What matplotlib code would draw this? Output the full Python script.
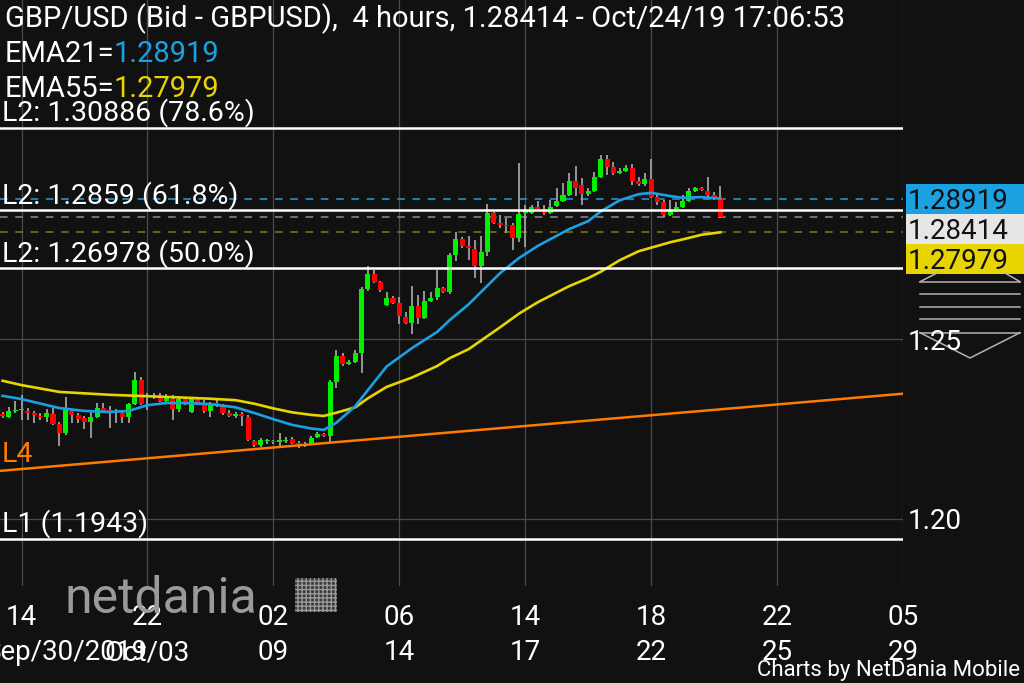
import numpy as np
import matplotlib
matplotlib.use('Agg')
import matplotlib.pyplot as plt
import matplotlib.transforms as mtransforms
from matplotlib.patches import Rectangle
from matplotlib.lines import Line2D

plt.rcParams['font.family'] = ['Roboto', 'DejaVu Sans']

BG = '#111111'
W, H = 1024, 683

# GBP/USD 4 hour candles, index 0 = Sep/30 14:00
first_idx = -3
opens = [1.2291, 1.2283, 1.2300, 1.2303, 1.2300, 1.2294, 1.2286, 1.2283, 1.2291, 1.2264,
         1.2238, 1.2300, 1.2289, 1.2280, 1.2269, 1.2283, 1.2308, 1.2303, 1.2297, 1.2294,
         1.2283, 1.2319, 1.2386, 1.2339, 1.2339, 1.2339, 1.2328, 1.2333, 1.2305, 1.2333,
         1.2297, 1.2333, 1.2319, 1.2300, 1.2322, 1.2314, 1.2294, 1.2286, 1.2291, 1.2283,
         1.2216, 1.2205, 1.2215, 1.2216, 1.2213, 1.2216, 1.2222, 1.2211, 1.2208, 1.2211,
         1.2227, 1.2236, 1.2230, 1.2381, 1.2453, 1.2431, 1.2436, 1.2461, 1.2640, 1.2682,
         1.2659, 1.2595, 1.2615, 1.2601, 1.2562, 1.2545, 1.2592, 1.2559, 1.2606, 1.2618,
         1.2643, 1.2632, 1.2735, 1.2779, 1.2760, 1.2751, 1.2704, 1.2743, 1.2852, 1.2824,
         1.2818, 1.2818, 1.2782, 1.2853, 1.2852, 1.2868, 1.2863, 1.2852, 1.2871, 1.2885,
         1.2902, 1.2941, 1.2930, 1.2905, 1.2913, 1.2952, 1.3002, 1.2980, 1.2963, 1.2969,
         1.2977, 1.2941, 1.2933, 1.2947, 1.2896, 1.2882, 1.2846, 1.2857, 1.2868, 1.2885,
         1.2913, 1.2921, 1.2913, 1.2902, 1.2894]
highs = [1.2297, 1.2311, 1.2328, 1.2344, 1.2308, 1.2300, 1.2294, 1.2305, 1.2308, 1.2269,
         1.2339, 1.2305, 1.2294, 1.2286, 1.2297, 1.2322, 1.2322, 1.2314, 1.2305, 1.2303,
         1.2322, 1.2408, 1.2395, 1.2350, 1.2350, 1.2350, 1.2347, 1.2344, 1.2339, 1.2339,
         1.2339, 1.2339, 1.2330, 1.2325, 1.2333, 1.2319, 1.2303, 1.2297, 1.2297, 1.2289,
         1.2219, 1.2225, 1.2222, 1.2219, 1.2238, 1.2227, 1.2227, 1.2216, 1.2213, 1.2230,
         1.2241, 1.2238, 1.2386, 1.2470, 1.2461, 1.2442, 1.2470, 1.2645, 1.2704, 1.2693,
         1.2662, 1.2632, 1.2620, 1.2618, 1.2576, 1.2648, 1.2623, 1.2634, 1.2632, 1.2693,
         1.2645, 1.2740, 1.2799, 1.2785, 1.2788, 1.2776, 1.2788, 1.2877, 1.2854, 1.2846,
         1.2838, 1.2824, 1.2991, 1.2874, 1.2874, 1.2885, 1.2874, 1.2888, 1.2921, 1.2935,
         1.2963, 1.2983, 1.2949, 1.2921, 1.2966, 1.3013, 1.3013, 1.2994, 1.2977, 1.2986,
         1.2988, 1.2952, 1.2963, 1.3002, 1.2902, 1.2888, 1.2888, 1.2882, 1.2902, 1.2921,
         1.2924, 1.2924, 1.2952, 1.2910, 1.2927]
lows = [1.2280, 1.2280, 1.2294, 1.2275, 1.2275, 1.2266, 1.2275, 1.2269, 1.2261, 1.2202,
        1.2233, 1.2266, 1.2266, 1.2250, 1.2225, 1.2280, 1.2294, 1.2252, 1.2266, 1.2266,
        1.2266, 1.2316, 1.2316, 1.2303, 1.2333, 1.2325, 1.2322, 1.2275, 1.2297, 1.2316,
        1.2294, 1.2316, 1.2294, 1.2283, 1.2311, 1.2289, 1.2283, 1.2280, 1.2258, 1.2216,
        1.2199, 1.2199, 1.2208, 1.2208, 1.2199, 1.2211, 1.2208, 1.2197, 1.2199, 1.2205,
        1.2225, 1.2227, 1.2213, 1.2364, 1.2425, 1.2428, 1.2434, 1.2406, 1.2634, 1.2657,
        1.2632, 1.2592, 1.2598, 1.2542, 1.2542, 1.2514, 1.2542, 1.2556, 1.2604, 1.2609,
        1.2629, 1.2626, 1.2718, 1.2754, 1.2721, 1.2671, 1.2657, 1.2732, 1.2821, 1.2810,
        1.2796, 1.2749, 1.2771, 1.2757, 1.2849, 1.2860, 1.2846, 1.2849, 1.2868, 1.2882,
        1.2899, 1.2899, 1.2874, 1.2899, 1.2910, 1.2949, 1.2958, 1.2958, 1.2960, 1.2966,
        1.2930, 1.2927, 1.2927, 1.2894, 1.2874, 1.2841, 1.2843, 1.2854, 1.2866, 1.2882,
        1.2910, 1.2913, 1.2894, 1.2888, 1.2838]
closes = [1.2286, 1.2300, 1.2303, 1.2305, 1.2294, 1.2289, 1.2283, 1.2294, 1.2264, 1.2238,
          1.2303, 1.2289, 1.2277, 1.2269, 1.2283, 1.2308, 1.2300, 1.2300, 1.2300, 1.2283,
          1.2319, 1.2386, 1.2319, 1.2342, 1.2342, 1.2328, 1.2336, 1.2305, 1.2333, 1.2322,
          1.2333, 1.2322, 1.2300, 1.2319, 1.2319, 1.2294, 1.2286, 1.2291, 1.2286, 1.2219,
          1.2205, 1.2219, 1.2218, 1.2212, 1.2219, 1.2219, 1.2211, 1.2208, 1.2205, 1.2225,
          1.2236, 1.2230, 1.2381, 1.2453, 1.2431, 1.2436, 1.2461, 1.2640, 1.2682, 1.2659,
          1.2637, 1.2615, 1.2601, 1.2565, 1.2545, 1.2592, 1.2559, 1.2606, 1.2615, 1.2643,
          1.2632, 1.2735, 1.2779, 1.2760, 1.2754, 1.2704, 1.2743, 1.2852, 1.2824, 1.2818,
          1.2815, 1.2782, 1.2849, 1.2856, 1.2868, 1.2863, 1.2852, 1.2868, 1.2885, 1.2902,
          1.2941, 1.2921, 1.2905, 1.2913, 1.2952, 1.3002, 1.2980, 1.2963, 1.2969, 1.2977,
          1.2941, 1.2933, 1.2947, 1.2896, 1.2882, 1.2846, 1.2857, 1.2868, 1.2885, 1.2913,
          1.2921, 1.2916, 1.2902, 1.2894, 1.28414]

# moving averages
ema_idx = [-3, 0, 6, 10, 14, 17, 20, 23, 26, 30, 34, 37, 40, 43, 46, 48, 50, 53, 55, 58,
           62, 66, 68, 71, 76, 79, 82, 87, 90, 92, 95, 98, 100, 103, 105, 108, 111]
ema21 = [1.2342, 1.2333, 1.2308, 1.2300, 1.2297, 1.2300, 1.2316, 1.2322, 1.2322, 1.2319,
         1.2310, 1.2294, 1.2277, 1.2261, 1.2251, 1.2247, 1.2267, 1.2313, 1.2358, 1.2424,
         1.2475, 1.2520, 1.2553, 1.2597, 1.2684, 1.2726, 1.2760, 1.2807, 1.2829, 1.2856,
         1.2887, 1.2904, 1.2908, 1.2899, 1.2894, 1.2896, 1.28919]
ema55 = [1.2384, 1.2372, 1.2353, 1.2349, 1.2345, 1.2343, 1.2341, 1.2339, 1.2337, 1.2334,
         1.2330, 1.2320, 1.2307, 1.2296, 1.2289, 1.2286, 1.2295, 1.2310, 1.2335, 1.2367,
         1.2393, 1.2425, 1.2447, 1.2472, 1.2533, 1.2571, 1.2603, 1.2648, 1.2670, 1.2688,
         1.2720, 1.2745, 1.2755, 1.2770, 1.2778, 1.2791, 1.27979]

fib_levels = [1.30886, 1.2859, 1.26978]
fib_labels = ['L2: 1.30886 (78.6%)', 'L2: 1.2859 (61.8%)', 'L2: 1.26978 (50.0%)']
l1_level = 1.1943
l1_label = 'L1 (1.1943)'
l4_idx = [-4, 140]
l4_price = [1.2132, 1.2348]

last_price = 1.28414
ema21_last = 1.28919
ema55_last = 1.27979

grid_idx = [0, 20, 40, 60, 80, 100, 120, 140]
top_labels = ['14', '22', '02', '06', '14', '18', '22', '05']
bottom_labels = ['Sep/30/2019', 'Oct/03', '09', '14', '17', '22', '25', '29']
price_ticks = [1.20, 1.25]

CYAN = '#1ba1e2'
YELLOW = '#e8d400'
ORANGE = '#ff7b00'

fig = plt.figure(figsize=(W / 100, H / 100), dpi=100, facecolor=BG)
ax = fig.add_axes([0, 1 - 586 / H, 903 / W, 586 / H])
ax.set_xlim(-3.415, 140)
ax.set_ylim(1.1812, 1.34454)
ax.axis('off')

for g in grid_idx:
    ax.axvline(g, color='#4a4a4a', lw=0.9, zorder=0)
for p in price_ticks:
    ax.axhline(p, color='#4a4a4a', lw=0.9, zorder=0)

# candles
o = np.array(opens)
h = np.array(highs)
l = np.array(lows)
c = np.array(closes)
idx = np.arange(first_idx, first_idx + len(o))
up = c >= o
body_lo = np.minimum(o, c)
body_h = np.maximum(np.abs(c - o), 0.0003)
ax.vlines(idx, l, h, color='#a0a0a0', lw=1.3, zorder=2)
ax.bar(idx[up], body_h[up], bottom=body_lo[up], width=0.8, color='#00f000', zorder=3)
ax.bar(idx[~up], body_h[~up], bottom=body_lo[~up], width=0.8, color='#ff0000', zorder=3)

ax.plot(ema_idx, ema55, color=YELLOW, lw=1.9, zorder=4)
ax.plot(ema_idx, ema21, color=CYAN, lw=1.9, zorder=4)

# dashed current value lines
ax.axhline(ema21_last, color=CYAN, lw=1.1, ls=(0, (5, 5)), zorder=1)
ax.axhline(last_price, color='#8c8c8c', lw=1.1, ls=(0, (5, 5)), zorder=1)
ax.axhline(ema55_last, color='#8a7c00', lw=1.1, ls=(0, (5, 5)), zorder=1)

# study lines
lbl_tr = mtransforms.blended_transform_factory(ax.transAxes, ax.transData)
lbl_tr = mtransforms.offset_copy(lbl_tr, fig=fig, x=0, y=7, units='dots')
for lev, txt in zip(fib_levels, fib_labels):
    ax.axhline(lev, color='white', lw=1.8, zorder=5)
    ax.text(2 / 903, lev, txt, transform=lbl_tr, color='white', fontsize=20.5,
            va='baseline', ha='left', zorder=6)
ax.axhline(l1_level, color='white', lw=1.8, zorder=5)
ax.text(2 / 903, l1_level, l1_label, transform=lbl_tr, color='white', fontsize=20.5,
        va='baseline', ha='left', zorder=6)
ax.plot(l4_idx, l4_price, color=ORANGE, lw=1.8, zorder=5)
l4_tr = mtransforms.offset_copy(ax.transData, fig=fig, x=0, y=9, units='dots')
ax.text(-3.2, l4_price[0], 'L4', transform=l4_tr, color=ORANGE, fontsize=20.5,
        va='baseline', ha='left', zorder=6)

# header
fig.text(5 / W, 1 - 27 / H, 'GBP/USD (Bid - GBPUSD),  4 hours, 1.28414 - Oct/24/19 17:06:53',
         color='white', fontsize=21, va='baseline')
fig.text(5 / W, 1 - 62 / H, 'EMA21=', color='white', fontsize=21, va='baseline')
fig.text(114 / W, 1 - 62 / H, f'{ema21_last:.5f}', color=CYAN, fontsize=21, va='baseline')
fig.text(5 / W, 1 - 97 / H, 'EMA55=', color='white', fontsize=21, va='baseline')
fig.text(114 / W, 1 - 97 / H, f'{ema55_last:.5f}', color=YELLOW, fontsize=21, va='baseline')

# right side price boxes
y0 = ax.transData.transform((0, ema21_last))[1]
for i, (val, col) in enumerate(zip([ema21_last, last_price, ema55_last], [CYAN, '#e6e6e6', YELLOW])):
    yc = y0 - 30 * i
    fig.add_artist(Rectangle((906 / W, (yc - 15) / H), (W - 906) / W, 30 / H,
                             transform=fig.transFigure, facecolor=col, edgecolor='none'))
    fig.text(908 / W, yc / H, f'{val:.5f}', color='#111111', fontsize=20, va='center_baseline')

for p in price_ticks:
    yp = ax.transData.transform((0, p))[1]
    fig.text(908 / W, yp / H, f'{p:.2f}', color='white', fontsize=20, va='center_baseline')

# scroll handle on the price scale
icon_col = '#b4b4b4'
for yy in [281.7, 294, 306.7, 319.3, 332.7]:
    fig.add_artist(Line2D([920 / W, 1020 / W], [1 - yy / H, 1 - yy / H],
                          transform=fig.transFigure, color=icon_col, lw=1.1))
fig.add_artist(Line2D([920 / W, 937 / W], [1 - 281.7 / H, 1 - 273 / H],
                      transform=fig.transFigure, color=icon_col, lw=1.1))
fig.add_artist(Line2D([1005 / W, 1020 / W], [1 - 273 / H, 1 - 281.7 / H],
                      transform=fig.transFigure, color=icon_col, lw=1.1))
fig.add_artist(Line2D([920 / W, 970 / W, 1020 / W], [1 - 332.7 / H, 1 - 358 / H, 1 - 332.7 / H],
                      transform=fig.transFigure, color=icon_col, lw=1.1))

# watermark
fig.text(65 / W, 1 - 613 / H, 'netdania', color='#9a9a9a', fontsize=36,
         va='baseline', zorder=1)
fig.add_artist(Rectangle((295 / W, 1 - 612 / H), 42 / W, 34 / H, transform=fig.transFigure,
                         facecolor='#3a3a3a', edgecolor='#9a9a9a', hatch='++++', lw=0, zorder=1))

# time axis labels
xtr = mtransforms.blended_transform_factory(ax.transData, fig.transFigure)
for i, g in enumerate(grid_idx):
    ax.text(g, 1 - 625 / H, top_labels[i], transform=xtr, color='white', fontsize=20,
            ha='center', va='baseline', clip_on=False, zorder=3)
    if i == 0:
        fig.text(-15 / W, 1 - 660 / H, bottom_labels[i], color='white', fontsize=20,
                 ha='left', va='baseline', zorder=3)
    else:
        ax.text(g, 1 - 660 / H, bottom_labels[i], transform=xtr, color='white', fontsize=20,
                ha='center', va='baseline', clip_on=False, zorder=3)

fig.text(1020 / W, 1 - 676 / H, 'Charts by NetDania Mobile', color='white', fontsize=16,
         ha='right', va='baseline')

fig.savefig('out.png', dpi=100, facecolor=BG)
